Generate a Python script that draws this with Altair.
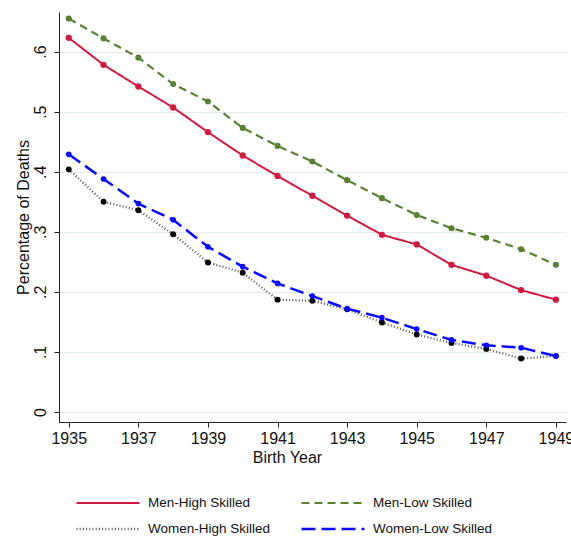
import altair as alt
import pandas as pd

years = list(range(1935, 1950))
series_names = ["Men-High Skilled", "Men-Low Skilled", "Women-High Skilled", "Women-Low Skilled"]
men_high = [0.623, 0.578, 0.542, 0.507, 0.466, 0.427, 0.393, 0.360, 0.327, 0.295, 0.279, 0.245, 0.227, 0.203, 0.187]
men_low = [0.655, 0.622, 0.590, 0.546, 0.517, 0.473, 0.443, 0.417, 0.386, 0.356, 0.328, 0.306, 0.290, 0.271, 0.245]
women_high = [0.404, 0.350, 0.336, 0.296, 0.249, 0.232, 0.187, 0.185, 0.171, 0.149, 0.129, 0.115, 0.105, 0.089, 0.093]
women_low = [0.429, 0.388, 0.347, 0.320, 0.275, 0.242, 0.214, 0.193, 0.172, 0.157, 0.138, 0.120, 0.111, 0.107, 0.093]
x_ticks = [1935, 1937, 1939, 1941, 1943, 1945, 1947, 1949]
y_ticks = [0, 0.1, 0.2, 0.3, 0.4, 0.5, 0.6]

line_colors = ["#cf1b40", "#5a8032", "#555555", "#0a0aff"]
marker_colors = ["#cf1b40", "#5a8032", "#000000", "#0a0aff"]
dashes = [[1, 0], [8, 5], [1, 2.2], [14, 6]]
widths = [2, 2.5, 1.2, 2.5]
sizes = [40, 32, 38, 8]

rows = []
for name, vals in zip(series_names, [men_high, men_low, women_high, women_low]):
    for yr, v in zip(years, vals):
        rows.append({"year": yr, "value": v, "series": name, "marker": name})
df = pd.DataFrame(rows)

x_enc = alt.X("year:Q",
              scale=alt.Scale(domain=[1934.72, 1949.29], nice=False, zero=False),
              axis=alt.Axis(values=x_ticks, format="d", title="Birth Year", grid=False,
                            labelFontSize=16, titleFontSize=16, labelBaseline="alphabetic",
                            labelPadding=16, tickSize=5, titleX=228, titleY=40,
                            titleBaseline="alphabetic", titleAnchor="start", titleAlign="center",
                            domainColor="#222", tickColor="#222", labelColor="#111",
                            titleColor="#111", titleFontWeight="normal"))
y_enc = alt.Y("value:Q",
              scale=alt.Scale(domain=[-0.0167, 0.666], nice=False, zero=False),
              axis=alt.Axis(values=y_ticks, title="Percentage of Deaths",
                            labelExpr="datum.value == 0 ? '0' : replace(format(datum.value, '.1f'), '0.', '.')",
                            labelAngle=270, labelAlign="center", labelBaseline="alphabetic",
                            labelPadding=9, labelFontSize=16, titleFontSize=16, tickSize=5,
                            titleAngle=270, titleX=-36, titleY=205, titleBaseline="middle",
                            titleAlign="center", grid=True, gridColor="#e2ebee", gridWidth=1,
                            domainColor="#222", tickColor="#222", labelColor="#111",
                            titleColor="#111", titleFontWeight="normal"))


def make_legend():
    return alt.Legend(
        title=None, orient="none", legendX=16, legendY=483,
        columns=2, direction="horizontal", symbolType="stroke",
        symbolSize=3969, symbolStrokeWidth=2, labelFontSize=13.5,
        labelOffset=7, columnPadding=29, rowPadding=10,
        clipHeight=16, labelColor="#111", padding=0,
    )


lines = alt.Chart(df).mark_line().encode(
    x=x_enc,
    y=y_enc,
    color=alt.Color("series:N", scale=alt.Scale(domain=series_names, range=line_colors), legend=make_legend()),
    strokeDash=alt.StrokeDash("series:N", scale=alt.Scale(domain=series_names, range=dashes), legend=make_legend()),
    strokeWidth=alt.StrokeWidth("series:N", scale=alt.Scale(domain=series_names, range=widths), legend=None),
)

points = alt.Chart(df).mark_circle(opacity=1).encode(
    x="year:Q",
    y="value:Q",
    color=alt.Color("marker:N", scale=alt.Scale(domain=series_names, range=marker_colors), legend=None),
    size=alt.Size("marker:N", scale=alt.Scale(domain=series_names, range=sizes), legend=None),
)

chart = alt.layer(lines, points).resolve_scale(
    color="independent", strokeDash="independent", strokeWidth="independent"
).resolve_legend(
    color="independent", strokeDash="independent", strokeWidth="independent"
).properties(
    width=507, height=410,
    autosize=alt.AutoSizeParams(type="none"),
    padding={"left": 59, "top": 12, "right": 5, "bottom": 116},
).configure(font="Liberation Sans", background="white").configure_view(stroke=None)

chart.save("out.html", embed_options={"renderer": "svg", "actions": False})
